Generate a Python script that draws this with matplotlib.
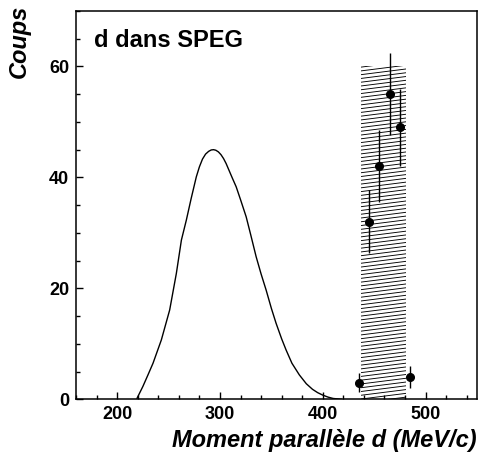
import numpy as np
import matplotlib
matplotlib.use('Agg')
import matplotlib.pyplot as plt
from matplotlib.patches import Rectangle
from matplotlib.ticker import MultipleLocator

plt.rcParams['font.family'] = ['Liberation Sans', 'DejaVu Sans']

# simulated momentum distribution
curve_x = [219.4, 225, 230, 234.9, 243, 251.1, 257.6, 262.5, 267.3, 272, 277,
           280, 283, 286, 289, 291.5, 293.8, 296, 298.5, 301, 303.5, 306,
           309, 312, 315.8, 320, 325.5, 330, 335.2, 340, 344.9, 350, 354.6,
           360, 364.3, 370, 377.2, 384, 390, 395, 400, 405, 410, 418]
curve_y = [0.2, 2.3, 4.4, 6.5, 10.7, 16.1, 22.7, 28.7, 32.3, 36.2, 40.1,
           41.9, 43.3, 44.2, 44.7, 44.95, 45.0, 44.9, 44.6, 44.1, 43.4, 42.5,
           41.2, 39.9, 38.3, 36.0, 32.9, 29.6, 25.7, 22.6, 19.7, 16.4, 13.7,
           10.9, 8.9, 6.5, 4.4, 2.8, 1.8, 1.2, 0.75, 0.4, 0.15, 0.0]

# measured counts
data_x = [435, 445, 455, 465, 475, 485]
data_y = [3, 32, 42, 55, 49, 4]

# hatched band
band_x = [437, 481]
band_top = 60

fig = plt.figure(figsize=(4.82, 4.57), dpi=100)
ax = fig.add_axes([0.1577, 0.1263, 0.8319, 0.8496])

# hatch lines clipped to the band
clip = Rectangle((band_x[0], 0), band_x[1] - band_x[0], band_top,
                 facecolor='none', edgecolor='none')
ax.add_patch(clip)
hx = np.array(band_x)
for y0 in np.arange(-2, band_top + 2, 0.68):
    ln, = ax.plot(hx, [y0, y0 + 1.03], color='black', lw=0.65)
    ln.set_clip_path(clip)

ax.plot(curve_x, curve_y, color='black', lw=1.0)

ax.errorbar(data_x, data_y, yerr=np.sqrt(data_y), fmt='o', color='black',
            ms=5.5, elinewidth=1.0, capsize=0)

ax.set_xlim(160, 550)
ax.set_ylim(0, 70)
ax.xaxis.set_major_locator(MultipleLocator(100))
ax.xaxis.set_minor_locator(MultipleLocator(20))
ax.yaxis.set_major_locator(MultipleLocator(20))
ax.yaxis.set_minor_locator(MultipleLocator(5))
ax.tick_params(which='both', direction='in', top=False, right=False,
               labelsize=13, width=1.0, pad=5)
ax.tick_params(which='major', length=5)
ax.tick_params(which='minor', length=2.8)
for lab in ax.get_xticklabels() + ax.get_yticklabels():
    lab.set_fontweight('bold')
for s in ax.spines.values():
    s.set_linewidth(1.1)

ax.text(0.045, 0.923, 'd dans SPEG', transform=ax.transAxes, fontsize=17,
        fontweight='bold', va='center', ha='left')

fig.text(0.9896, 0.037, 'Moment parallèle d (MeV/c)', ha='right',
         va='center', fontsize=17, fontweight='bold', style='italic')
fig.text(0.04, 0.99, 'Coups', ha='center', va='top', rotation=90,
         fontsize=17, fontweight='bold', style='italic')

fig.savefig('out.png', dpi=100)
